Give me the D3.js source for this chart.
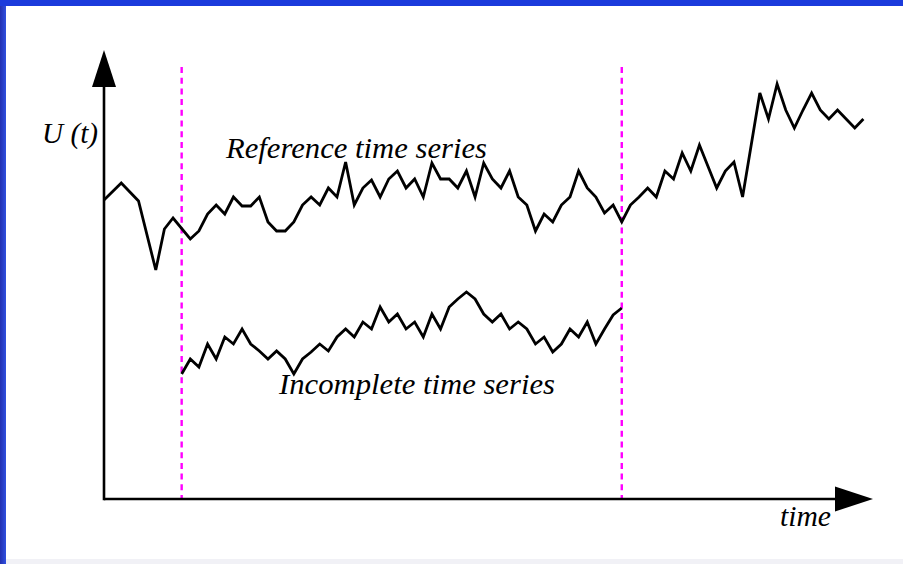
<!DOCTYPE html>
<meta charset="utf-8">
<style>
  body { margin: 0; background: #fff; }
  .series { fill: none; stroke: #000; stroke-width: 2.8px; stroke-linejoin: miter; }
  .marker { stroke: #ff00ff; stroke-width: 2.4px; stroke-dasharray: 6,4.7; }
  .lbl { font-family: "Liberation Serif", "Times New Roman", serif; font-style: italic; fill: #000; }
</style>
<svg width="903" height="564"></svg>
<script src="https://cdn.jsdelivr.net/npm/d3@7"></script>
<script>
  // reference series: time index / U value (only the turning points)
  var refT = [0, 2, 4, 6, 7, 8, 10, 11, 12, 13, 14, 15, 16, 17, 18, 19, 20, 21, 22, 23, 24, 25, 26, 27, 28, 29,
    30, 31, 32, 33, 34, 35, 36, 37, 38, 39, 40, 41, 42, 43, 44, 45, 46, 47, 48, 49, 50, 51, 52, 53, 54, 55, 56, 57, 58, 59,
    60, 61, 62, 63, 64, 65, 66, 67, 68, 69, 71, 72, 73, 74, 76, 77, 78, 79, 80, 81, 82, 83, 84, 85, 86, 87, 88];
  var refU = [29.9, 31.6, 29.8, 22.9, 27.0, 28.1, 26.0, 26.8, 28.5, 29.4, 28.5, 30.2, 29.3, 29.3, 30.2, 27.7, 26.8, 26.8, 27.7, 29.4, 30.2, 29.4, 31.1, 30.2, 33.7, 29.4,
    31.1, 31.9, 30.2, 32.0, 32.8, 31.1, 32.0, 30.2, 33.6, 32.0, 32.0, 31.1, 32.8, 30.2, 33.6, 32.0, 31.1, 32.8, 30.2, 29.4, 26.8, 28.5, 27.7, 29.4, 30.2, 32.8, 31.1, 30.2, 28.6, 29.4,
    27.7, 29.4, 30.2, 31.1, 30.2, 32.8, 32.0, 34.6, 32.8, 35.4, 31.1, 32.8, 33.7, 30.2, 40.6, 38.0, 41.5, 38.9, 37.1, 38.9, 40.6, 38.9, 38.0, 38.9, 38.0, 37.1, 38.0];

  // incomplete series, one value per time index from 9 to 60
  var incStart = 9;
  var incU = [12.5, 14.0, 13.2, 15.5, 14.0, 16.2, 15.5, 17.0, 15.5, 14.8, 14.0, 14.8, 14.0, 12.5, 14.0, 14.7, 15.5, 14.8, 16.2, 17.0,
    16.2, 17.7, 17.0, 19.2, 17.7, 18.5, 17.0, 17.7, 16.2, 18.5, 17.0, 19.2, 20.0, 20.7, 20.0, 18.5, 17.7, 18.5, 17.0, 17.7,
    17.0, 15.5, 16.2, 14.7, 15.5, 17.0, 16.2, 17.7, 15.5, 17.0, 18.4, 19.1];

  var gapT = [9, 60];

  // labels: text, left x, baseline y, font size, width
  var labels = [
    { text: "U (t)", x: 42, y: 143, size: 29, w: 56 },
    { text: "Reference time series", x: 226, y: 158, size: 30, w: 261 },
    { text: "Incomplete time series", x: 279, y: 394, size: 30, w: 276 },
    { text: "time", x: 780, y: 526, size: 30, w: 51 }
  ];

  var svg = d3.select("svg"),
    width = +svg.attr("width"),
    height = +svg.attr("height");

  var x = d3.scaleLinear().domain([0, 88]).range([104, 863.4]);
  var y = d3.scaleLinear().domain([0, 45]).range([499, 49]);

  // frame
  var defs = svg.append("defs");
  var grad = defs.append("linearGradient").attr("id", "side").attr("x1", 0).attr("x2", 1);
  grad.append("stop").attr("offset", 0).attr("stop-color", "#2230b0");
  grad.append("stop").attr("offset", 1).attr("stop-color", "#3050e0");
  svg.append("rect").attr("width", width).attr("height", height).attr("fill", "#fff");
  svg.append("rect").attr("x", 0).attr("y", 559).attr("width", width).attr("height", 5).attr("fill", "#f1f1f6");
  svg.append("rect").attr("x", 0).attr("y", 0).attr("width", 6).attr("height", height).attr("fill", "url(#side)");
  svg.append("rect").attr("x", 0).attr("y", 0).attr("width", width).attr("height", 6).attr("fill", "#1b3bdc");

  // dashed markers
  svg.append("g").selectAll("line")
    .data(gapT)
    .enter().append("line")
    .attr("class", "marker")
    .attr("x1", function(d) { return x(d); })
    .attr("x2", function(d) { return x(d); })
    .attr("y1", 67)
    .attr("y2", y(0));

  // axes
  var ax = svg.append("g");
  ax.append("line").attr("x1", x(0)).attr("y1", y(0)).attr("x2", 840).attr("y2", y(0))
    .attr("stroke", "#000").attr("stroke-width", 2.6);
  ax.append("line").attr("x1", x(0)).attr("y1", y(0) + 1.3).attr("x2", x(0)).attr("y2", 82)
    .attr("stroke", "#000").attr("stroke-width", 2.6);
  ax.append("path").attr("d", "M873," + y(0) + "L835," + (y(0) - 12.5) + "L835," + (y(0) + 12.5) + "Z").attr("fill", "#000");
  ax.append("path").attr("d", "M" + x(0) + ",50L" + (x(0) - 12) + ",87L" + (x(0) + 12) + ",87Z").attr("fill", "#000");

  var line = d3.line()
    .x(function(d) { return x(d[0]); })
    .y(function(d) { return y(d[1]); });

  svg.append("path")
    .attr("class", "series")
    .attr("d", line(refT.map(function(t, i) { return [t, refU[i]]; })));

  svg.append("path")
    .attr("class", "series")
    .attr("d", line(incU.map(function(u, i) { return [incStart + i, u]; })));

  svg.append("g").selectAll("text")
    .data(labels)
    .enter().append("text")
    .attr("class", "lbl")
    .attr("x", function(d) { return d.x; })
    .attr("y", function(d) { return d.y; })
    .attr("font-size", function(d) { return d.size; })
    .attr("textLength", function(d) { return d.w; })
    .attr("lengthAdjust", "spacingAndGlyphs")
    .text(function(d) { return d.text; });
</script>
